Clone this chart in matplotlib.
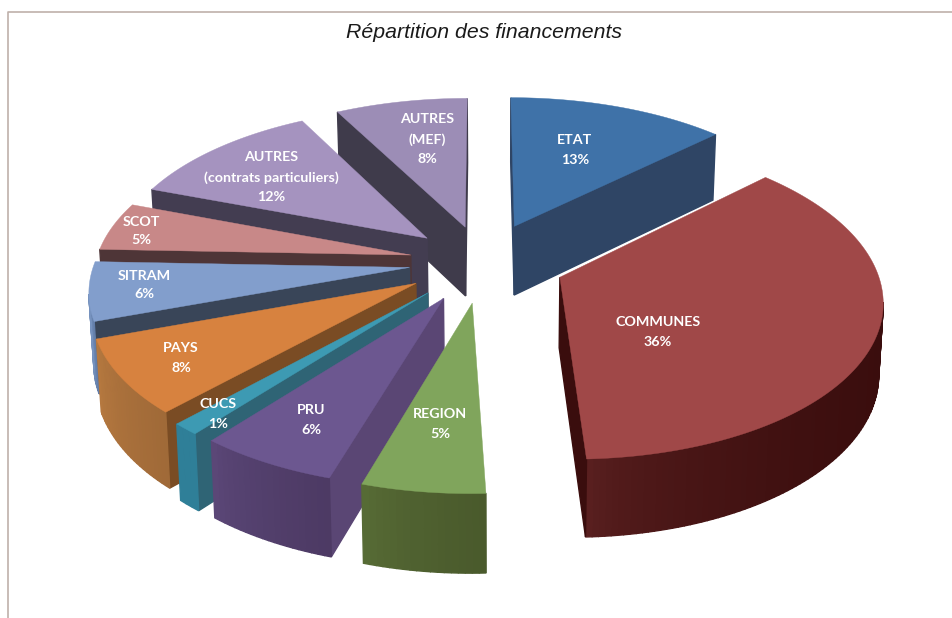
import numpy as np
import matplotlib
matplotlib.use('Agg')
import matplotlib.pyplot as plt
import matplotlib.colors as mcolors

# data
labels = ['ETAT', 'COMMUNES', 'REGION', 'PRU', 'CUCS', 'PAYS', 'SITRAM', 'SCOT',
          'AUTRES\n(contrats particuliers)', 'AUTRES\n(MEF)']
values = [12.9, 36.45, 5.35, 6.1, 1.2, 7.6, 6.0, 5.0, 11.6, 7.8]
title = 'Répartition des financements'

# how far each slice is pulled out
explode = [0.26, 0.26, 0.26, 0.26, 0.26, 0.25, 0.235, 0.235, 0.24, 0.24]

# colours of each slice
top_colors = ['#3f72a8', '#a04848', '#80a55c', '#6c5790', '#3d9ab3',
              '#d7823f', '#829ecc', '#c88888', '#a593bf', '#9c8db6']
cut_colors = ['#2f4565', '#3a0d0d', '#4c6030', '#5a4674', '#2f6475',
              '#7a4c24', '#394558', '#4e3537', '#433d51', '#3f3b4b']
wall_left = ['#2f4565', '#5e2222', '#5a7038', '#5e4a7c', '#2f7f98',
             '#b87a40', '#7a96c2', '#a87070', '#433d51', '#3f3b4b']
wall_right = ['#2f4565', '#3a0d0d', '#4a5a2c', '#4d3a64', '#2f7f98',
              '#a06a38', '#5f7aa5', '#8a5a5a', '#433d51', '#3f3b4b']

# label centres in pixels
label_xy = [(575, 150), (658, 332), (440, 424), (311, 420), (218, 414),
            (181, 358), (144, 285), (141, 231), (271, 177), (427, 139)]

# projection of the pie
cx, cy = 483, 262
rx, ry = 315, 154
persp = 0.13
depth = 70
depth_persp = 0.08
pivot_x = 500
shrink = 0.988


def project(u, v):
    w = 1 + persp * v
    return cx + rx * u / w, cy - ry * v / w


def lower(pt):
    # point on the bottom of the slab under a top point
    v_guess = (cy - pt[1]) / ry
    return (pivot_x + (pt[0] - pivot_x) * shrink,
            pt[1] + depth / (1 + depth_persp * v_guess))


fig = plt.figure(figsize=(9.53, 6.18), dpi=100)
ax = fig.add_axes([0, 0, 1, 1])
ax.set_xlim(0, 953)
ax.set_ylim(618, 0)
ax.axis('off')

# frame of the picture
ax.plot([8, 8, 953], [618, 12, 12], color='#bfb0aa', lw=1.2)

fracs = np.array(values) / sum(values)
ends = np.cumsum(fracs) * 2 * np.pi
starts = ends - fracs * 2 * np.pi
mids = (starts + ends) / 2

# back slices first
order = np.argsort(-np.cos(mids))

for i in order:
    ou, ov = explode[i] * np.sin(mids[i]), explode[i] * np.cos(mids[i])
    theta = np.linspace(starts[i], ends[i], max(int(np.degrees(ends[i] - starts[i])), 4))
    tip = project(ou, ov)
    arc = [project(ou + np.sin(t), ov + np.cos(t)) for t in theta]
    poly = [tip] + arc
    xs = np.array([p[0] for p in poly])
    ys = np.array([p[1] for p in poly])
    area = np.sum(xs * np.roll(ys, -1) - np.roll(xs, -1) * ys)
    left = mcolors.to_rgb(wall_left[i])
    right = mcolors.to_rgb(wall_right[i])
    n = len(poly)
    for k in range(n):
        a, b = poly[k], poly[(k + 1) % n]
        # keep only the edges whose wall faces the viewer
        if (b[0] - a[0]) * np.sign(area) >= 0:
            continue
        if k == 0 or k == n - 1:
            col = cut_colors[i]
        else:
            t = (a[0] - min(p[0] for p in arc)) / max(np.ptp([p[0] for p in arc]), 1)
            t = t ** 0.5
            col = tuple(np.array(left) * (1 - t) + np.array(right) * t)
        a2, b2 = lower(a), lower(b)
        ax.fill([a[0], b[0], b2[0], a2[0]], [a[1], b[1], b2[1], a2[1]],
                color=col, lw=1.0)
    ax.fill(xs, ys, color=top_colors[i], lw=0.3)

for lab, val, (x, y) in zip(labels, values, label_xy):
    ax.text(x, y, f'{lab}\n{val:.0f}%', ha='center', va='center', color='white',
            fontsize=10.3, fontweight='bold', family='Lato', linespacing=1.7)

ax.text(484, 32, title, ha='center', va='center', fontsize=15.3, style='italic',
        family='Liberation Sans', color='#1a1a1a')

plt.savefig('out.png', dpi=100)
